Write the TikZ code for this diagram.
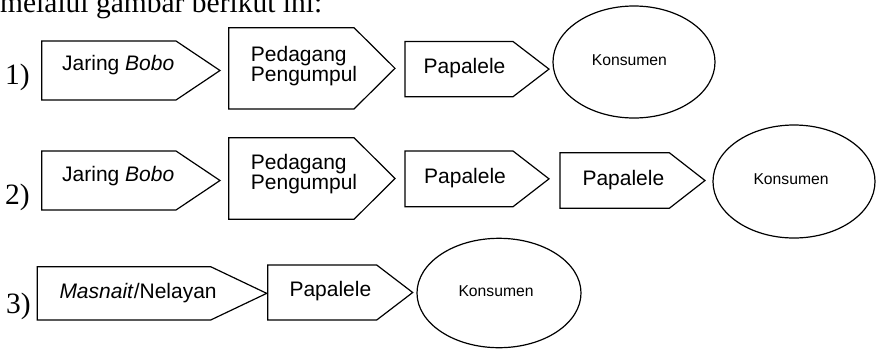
\documentclass[tikz,border=0pt]{standalone}
\usepackage{fontspec}
\setmainfont{Liberation Serif}
\newfontfamily\arialfont{Liberation Sans}

\begin{document}
\begin{tikzpicture}[x=1pt, y=-1pt,
  box/.style={draw, line width=1.2pt},
  lbl/.style={anchor=base west, inner sep=0pt, font=\arialfont\fontsize{21}{21}\selectfont},
  kons/.style={anchor=base west, inner sep=0pt, font=\arialfont\fontsize{15.7}{16}\selectfont},
  num/.style={anchor=base west, inner sep=0pt, font=\fontsize{29.5}{30}\selectfont}]

	% page frame, the line of text on top is cut off
	\path[use as bounding box] (0,0) rectangle (878,349);
	\clip (0,0) rectangle (878,349);

	\node[num] (intro) at (0,12) {melalui gambar berikut ini:};

	% arrow boxes: left / top / bottom / end of body / tip
	\foreach \xa/\ya/\yb/\xb/\xt in {41.7/41/100/176/220, 228.7/27.7/109/354/395, 405/41.5/96.7/513/549,
	    41.7/151/210/176/220, 228.7/137.7/219.3/354/395, 405/151/206.7/513/549, 560/152.7/208.3/669.3/705,
	    37.3/266.7/320/210.7/266.7, 267.7/265/320/376.7/412.7}
		\draw[box] (\xa,\ya) -- (\xb,\ya) -- (\xt,{(\ya+\yb)/2}) -- (\xb,\yb) -- (\xa,\yb) -- cycle;

	% consumers
	\draw[box] (634,62) ellipse [x radius=81pt, y radius=56pt];
	\draw[box] (794,181.5) ellipse [x radius=81pt, y radius=56.5pt];
	\draw[box] (499,293) ellipse [x radius=82pt, y radius=54.7pt];

	% numbering
	\node[num] (n1) at (5,84) {1)};
	\node[num] (n2) at (5,204) {2)};
	\node[num] (n3) at (6,313) {3)};

	% row 1
	\node[lbl] (jaring1) at (62,70.7) {Jaring \textit{Bobo}};
	\node[lbl] (pedagang1) at (250.7,61.5) {Pedagang};
	\node[lbl] (pengumpul1) at (250.7,81.5) {Pengumpul};
	\node[lbl] (papalele1) at (423.5,73.3) {Papalele};
	\node[kons] (konsumen1) at (591.7,65) {Konsumen};

	% row 2
	\node[lbl] (jaring2) at (62,181.3) {Jaring \textit{Bobo}};
	\node[lbl] (pedagang2) at (250.7,169.3) {Pedagang};
	\node[lbl] (pengumpul2) at (250.7,189.3) {Pengumpul};
	\node[lbl] (papalele2) at (424,183.5) {Papalele};
	\node[lbl] (papalele3) at (582.3,185) {Papalele};
	\node[kons] (konsumen2) at (753.3,184) {Konsumen};

	% row 3
	\node[lbl] (masnait) at (59.3,298.3) {\textit{Masnait}/Nelayan};
	\node[lbl] (papalele4) at (289.3,296) {Papalele};
	\node[kons] (konsumen3) at (458.3,296) {Konsumen};

\end{tikzpicture}
\end{document}
